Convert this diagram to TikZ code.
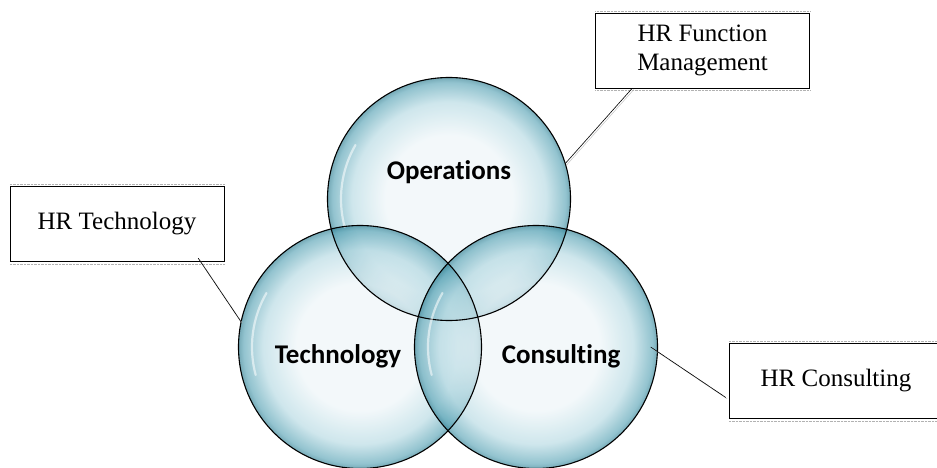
\documentclass[tikz,border=0pt]{standalone}
\usepackage{fontspec}
\setmainfont{Liberation Serif}
\newfontfamily\bubfont{Carlito}[Ligatures=NoCommon]

\definecolor{bubin}{HTML}{EDF5F8}
\definecolor{bubmid}{HTML}{B5D9E2}
\definecolor{bubrim}{HTML}{5AA4B6}
\definecolor{bubout}{HTML}{2F7E92}
\pgfdeclareradialshading{bubble}{\pgfpoint{0bp}{0bp}}{%
  color(0bp)=(bubin); color(13bp)=(bubin); color(20bp)=(bubmid);
  color(24bp)=(bubrim); color(25bp)=(bubout); color(50bp)=(bubout)}

\begin{document}
\begin{tikzpicture}[x=1pt,y=-1pt,
  bubble/.style={circle, minimum size=243pt, inner sep=0pt, shade, shading=bubble,
    fill opacity=0.66},
  rim/.style={draw=black, line width=1.1pt},
  shine/.style={white, line width=2.2pt, line cap=round, opacity=0.55},
  bublabel/.style={font=\bubfont\bfseries\fontsize{27}{32}\selectfont},
  callout/.style={draw, thin, fill=white, minimum width=214pt, minimum height=75pt,
    inner sep=0pt, align=center, font=\fontsize{25}{29}\selectfont},
  leader/.style={draw=black, semithick},
  leadershadow/.style={draw=gray!55, thin},
]
\useasboundingbox (0,0) rectangle (937,468);

% bubbles
\node[bubble] (op)   at (449,199) {};
\node[bubble] (tech) at (360,347) {};
\node[bubble] (cons) at (536,347) {};
\foreach \c in {op,tech,cons}{
  \draw[shine] (\c.center) ++(150:108pt) arc[start angle=150, end angle=195, radius=108pt];
  \draw[rim] (\c.center) circle [radius=121.5pt];
}

\node[bublabel] (oplbl)   at ([yshift=27pt]op.center) {Operations};
\node[bublabel] (techlbl) at ([xshift=-22pt,yshift=-9pt]tech.center) {Technology};
\node[bublabel] (conslbl) at ([xshift=25pt,yshift=-9pt]cons.center) {Consulting};

% callouts
\node[callout] (fm) at (702.5,50.5) {HR Function\\Management};
\node[callout] (tc) at (117,223.5) {HR Technology};
\node[callout] (cs) at (836,380.5) {HR Consulting};
\foreach \b in {fm,tc,cs}{
  \draw[gray!60, densely dotted] ([yshift=2pt]\b.north west) -- ([yshift=2pt]\b.north east);
  \draw[gray!60, densely dotted] ([yshift=-2.5pt]\b.south west) -- ([yshift=-2.5pt]\b.south east);
}

\coordinate (fmend) at ([xshift=37pt]fm.south west);
\coordinate (tcend) at ([xshift=-26pt,yshift=3pt]tc.south east);
\coordinate (csend) at ([xshift=-3pt,yshift=-17pt]cs.west);
\coordinate (consrim) at ([xshift=-7pt]cons.east);

\foreach \s/\e in {op.17/fmend, tech.168/tcend, consrim/csend}{
  \draw[leadershadow] ([shift={(1.4pt,-1.4pt)}]\s) -- ([shift={(1.4pt,-1.4pt)}]\e);
  \draw[leader] (\s) -- (\e);
}
\end{tikzpicture}
\end{document}
